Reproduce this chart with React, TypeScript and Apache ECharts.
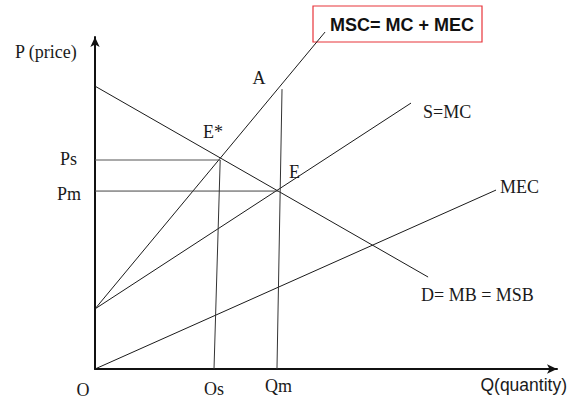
import React, { useEffect, useRef } from "react";
import * as echarts from "echarts";

// Curve end points in data units (x: quantity 0..100, y: price 0..100)
const demandCurve = [[0, 85.2], [72.1, 27.7]];
const mscCurve = [[0, 18.1], [49.8, 101.5]];
const supplyCurve = [[0, 18.1], [68.4, 80.1]];
const mecCurve = [[0, 0], [86.8, 53.9]];
const psLine = [[0, 62.95], [27.1, 62.95]];
const pmLine = [[0, 53.6], [39.7, 53.6]];
const qsLine = [[27.1, 62.95], [25.76, 0]];
const qmLine = [[40.48, 84.3], [39.39, 0]];

const serifLabels = ["P (price)", "A", "E*", "S=MC", "Ps", "Pm", "E", "MEC", "D= MB = MSB", "O", "Os", "Qm"];
const xAxisName = "Q(quantity)";
const titleText = "MSC= MC + MEC";

const SERIF = "'Liberation Serif', 'Times New Roman', serif";
const SANS = "'Liberation Sans', Arial, sans-serif";

export default function App() {
  const ref = useRef<HTMLDivElement>(null);
  useEffect(() => {
    if (!ref.current) return;
    const chart = echarts.init(ref.current, null, { renderer: "svg" });
    const lineSeries = (data: number[][], color = "#1a1a1a", width = 1) => ({
      type: "line",
      data,
      symbol: "none",
      clip: false,
      silent: true,
      lineStyle: { color, width },
    });
    const pos: [number, number, string][] = [
      [15, 52, "left"],
      [259, 78, "center"],
      [203, 132, "left"],
      [423, 112, "left"],
      [60, 159, "left"],
      [57, 194, "left"],
      [289, 172, "left"],
      [500, 187, "left"],
      [421, 295, "left"],
      [83, 390, "center"],
      [204, 389, "left"],
      [265, 386, "left"],
    ];
    const texts = serifLabels.map((t, i) => ({
      type: "text",
      x: pos[i][0],
      y: pos[i][1],
      style: {
        text: t,
        fill: "#1a1a1a",
        font: `18px ${SERIF}`,
        textAlign: pos[i][2],
        textVerticalAlign: "middle",
      },
    }));
    chart.setOption({
      animation: false,
      backgroundColor: "#ffffff",
      grid: { left: 95, right: 11, top: 37, bottom: 30 },
      xAxis: {
        type: "value",
        min: 0,
        max: 100,
        axisLine: { show: true, symbol: ["none", "arrow"], symbolSize: [7, 10], lineStyle: { color: "#111", width: 2 } },
        axisTick: { show: false },
        axisLabel: { show: false },
        splitLine: { show: false },
      },
      yAxis: {
        type: "value",
        min: 0,
        max: 100,
        axisLine: { show: true, symbol: ["none", "arrow"], symbolSize: [7, 10], lineStyle: { color: "#111", width: 2 } },
        axisTick: { show: false },
        axisLabel: { show: false },
        splitLine: { show: false },
      },
      series: [
        lineSeries(demandCurve),
        lineSeries(mscCurve),
        lineSeries(supplyCurve),
        lineSeries(mecCurve),
        lineSeries(psLine, "#555"),
        lineSeries(pmLine, "#444"),
        lineSeries(qsLine, "#333"),
        lineSeries(qmLine, "#333"),
      ],
      graphic: [
        ...texts,
        {
          type: "text",
          x: 567,
          y: 385,
          style: { text: xAxisName, fill: "#1a1a1a", font: `17.5px ${SANS}`, textAlign: "right", textVerticalAlign: "middle" },
        },
        {
          type: "rect",
          shape: { x: 313, y: 6, width: 169, height: 36 },
          style: { fill: "none", stroke: "#e8343a", lineWidth: 1.2 },
        },
        {
          type: "text",
          x: 330,
          y: 25,
          style: { text: titleText, fill: "#111", font: `bold 18px ${SANS}`, textAlign: "left", textVerticalAlign: "middle" },
        },
      ],
    });
    return () => chart.dispose();
  }, []);
  return <div ref={ref} style={{ position: "fixed", left: 0, top: 0, width: 568, height: 399 }} />;
}
